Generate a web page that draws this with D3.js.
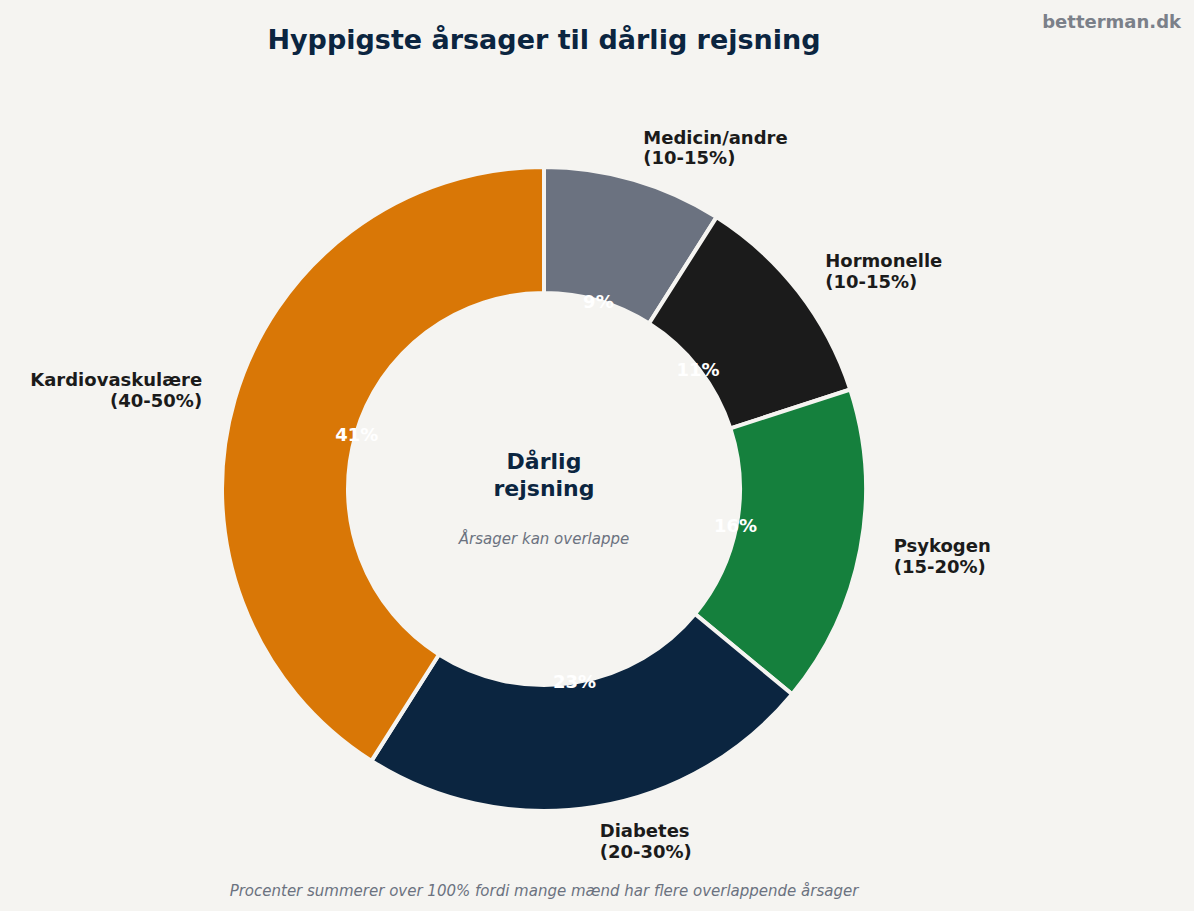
<!DOCTYPE html>
<html><head><meta charset="utf-8">
<script src="https://cdn.jsdelivr.net/npm/d3@7"></script>
<style>body{margin:0;background:#f5f4f1;font-family:"DejaVu Sans",sans-serif}</style>
</head><body>
<svg id="c" width="1194" height="911"></svg>
<script>
const categories = ["Medicin/andre","Hormonelle","Psykogen","Diabetes","Kardiovaskulære"];
const ranges = ["(10-15%)","(10-15%)","(15-20%)","(20-30%)","(40-50%)"];
const values = [9,11,16,23,41];
const colors = ["#6b7280","#1b1b1b","#15803d","#0b2540","#d97706"];

const svg = d3.select("#c");
svg.append("rect").attr("width",1194).attr("height",911).attr("fill","#f5f4f1");
const cx=544, cy=489, R=322, r0=196;
const g = svg.append("g").attr("transform",`translate(${cx},${cy})`);
const pie = d3.pie().sort(null).value(d=>d)(values);
const arc = d3.arc().innerRadius(r0).outerRadius(R);
g.selectAll("path").data(pie).join("path").attr("d",arc)
  .attr("fill",(d,i)=>colors[i]).attr("stroke","#f5f4f1").attr("stroke-width",4);
const pctArc = d3.arc().innerRadius(195).outerRadius(195);
g.selectAll(".p").data(pie).join("text").attr("transform",d=>`translate(${pctArc.centroid(d)})`)
  .attr("text-anchor","middle").attr("dy","0.35em").attr("fill","#fff").attr("font-weight","bold")
  .attr("font-size",18).text(d=>d.data+"%");
const labArc = d3.arc().innerRadius(356).outerRadius(356);
pie.forEach((d,i)=>{
  const [x,y]=labArc.centroid(d);
  const mid=(d.startAngle+d.endAngle)/2;
  const right = mid<Math.PI;
  const t=g.append("text").attr("x",x).attr("y",y).attr("text-anchor",right?"start":"end")
    .attr("font-size",18).attr("font-weight","bold").attr("fill","#1b1b1b");
  t.append("tspan").attr("x",x).attr("dy","-0.2em").text(categories[i]);
  t.append("tspan").attr("x",x).attr("dy","1.15em").text(ranges[i]);
});
g.append("text").attr("text-anchor","middle").attr("y",-20).attr("font-size",22).attr("font-weight","bold").attr("fill","#0b2540").text("Dårlig");
g.append("text").attr("text-anchor","middle").attr("y",7).attr("font-size",22).attr("font-weight","bold").attr("fill","#0b2540").text("rejsning");
g.append("text").attr("text-anchor","middle").attr("y",55).attr("font-size",15).attr("font-style","italic").attr("fill","#6b7280").text("Årsager kan overlappe");
svg.append("text").attr("x",544).attr("y",49).attr("text-anchor","middle").attr("font-size",27).attr("font-weight","bold").attr("fill","#0b2540").text("Hyppigste årsager til dårlig rejsning");
svg.append("text").attr("x",1181).attr("y",28).attr("text-anchor","end").attr("font-size",18).attr("font-weight","bold").attr("fill","#7b8089").text("betterman.dk");
svg.append("text").attr("x",544).attr("y",896).attr("text-anchor","middle").attr("font-size",15).attr("font-style","italic").attr("fill","#6b7280").text("Procenter summerer over 100% fordi mange mænd har flere overlappende årsager");
</script></body></html>
